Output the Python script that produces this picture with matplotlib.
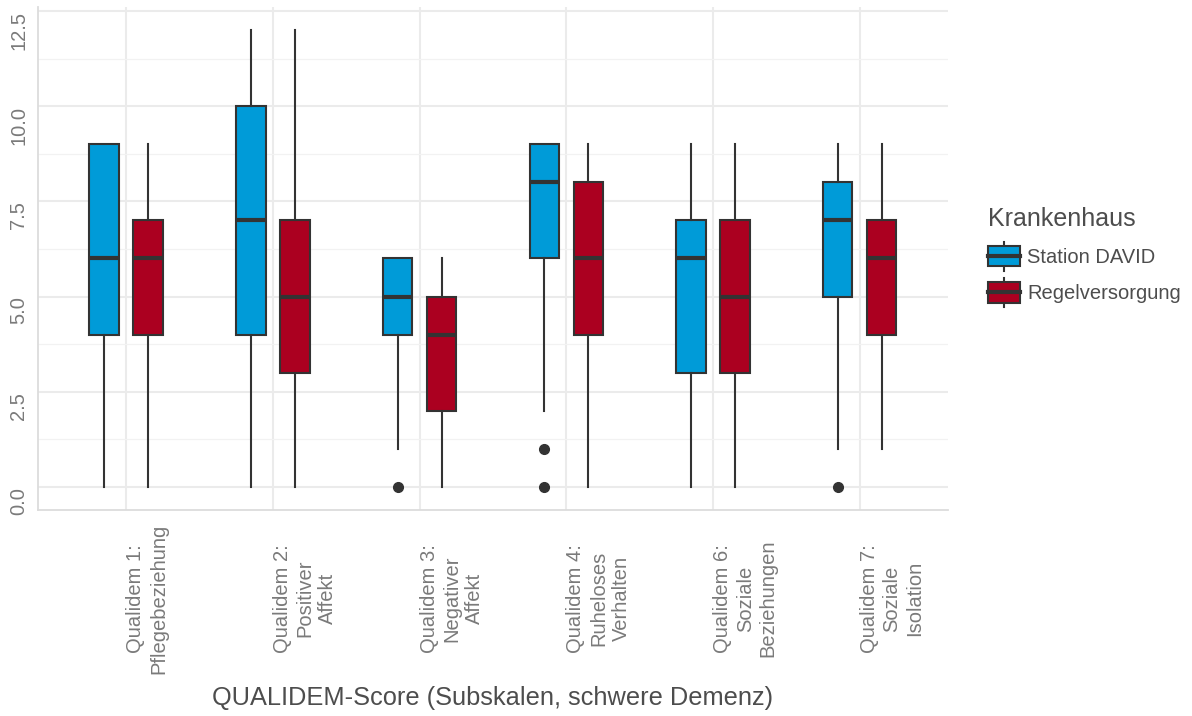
import matplotlib
matplotlib.use("Agg")
import matplotlib.pyplot as plt
from matplotlib.legend_handler import HandlerBase
from matplotlib.patches import Patch, Rectangle
from matplotlib.lines import Line2D
from matplotlib.ticker import MultipleLocator

plt.rcParams["font.family"] = ["Liberation Sans", "DejaVu Sans"]

categories = [
    "Qualidem 1:\nPflegebeziehung",
    "Qualidem 2:\nPositiver\nAffekt",
    "Qualidem 3:\nNegativer\nAffekt",
    "Qualidem 4:\nRuheloses\nVerhalten",
    "Qualidem 6:\nSoziale\nBeziehungen",
    "Qualidem 7:\nSoziale\nIsolation",
]
groups = ["Station DAVID", "Regelversorgung"]

# Station DAVID
david_med = [6, 7, 5, 8, 6, 7]
david_q1 = [4, 4, 4, 6, 3, 5]
david_q3 = [9, 10, 6, 9, 7, 8]
david_lo = [0, 0, 1, 2, 0, 1]
david_hi = [9, 12, 6, 9, 9, 9]
david_out = [[], [], [0], [1, 0], [], [0]]

# Regelversorgung
regel_med = [6, 5, 4, 6, 5, 6]
regel_q1 = [4, 3, 2, 4, 3, 4]
regel_q3 = [7, 7, 5, 8, 7, 7]
regel_lo = [0, 0, 0, 0, 0, 1]
regel_hi = [9, 12, 6, 9, 9, 9]
regel_out = [[], [], [], [], [], []]

colors = ["#009BD8", "#AB0020"]
edge = "#333333"


def make_stats(med, q1, q3, lo, hi, out):
    return [dict(med=m, q1=a, q3=b, whislo=l, whishi=h, fliers=f)
            for m, a, b, l, h, f in zip(med, q1, q3, lo, hi, out)]


class BoxKey(HandlerBase):
    def create_artists(self, legend, orig_handle, xdescent, ydescent,
                       width, height, fontsize, trans):
        x0, y0 = -xdescent, -ydescent
        cx = x0 + width / 2
        arts = [
            Line2D([cx, cx], [y0 - height * 0.2, y0 + height * 1.2],
                   color=edge, lw=1.5, transform=trans),
            Rectangle((x0, y0), width, height, facecolor=orig_handle.get_facecolor(),
                      edgecolor=edge, lw=1.5, transform=trans),
            Line2D([x0, x0 + width], [y0 + height / 2] * 2, color=edge, lw=3,
                   transform=trans),
        ]
        return arts


fig = plt.figure(figsize=(11.92, 7.16), dpi=100)
ax = fig.add_axes([0.032, 0.288, 0.763, 0.702])

x = list(range(1, len(categories) + 1))
offset = 0.15
common = dict(widths=0.2, patch_artist=True, showcaps=False,
              boxprops=dict(edgecolor=edge, linewidth=1.5),
              medianprops=dict(color=edge, linewidth=3),
              whiskerprops=dict(color=edge, linewidth=1.5),
              flierprops=dict(marker="o", markerfacecolor=edge,
                              markeredgecolor=edge, markersize=7))

b1 = ax.bxp(make_stats(david_med, david_q1, david_q3, david_lo, david_hi, david_out),
            positions=[p - offset for p in x], **common)
b2 = ax.bxp(make_stats(regel_med, regel_q1, regel_q3, regel_lo, regel_hi, regel_out),
            positions=[p + offset for p in x], **common)
for bp, c in zip([b1, b2], colors):
    for box in bp["boxes"]:
        box.set_facecolor(c)

ax.set_xlim(0.4, len(categories) + 0.6)
ax.set_ylim(-0.6, 12.6)
ax.yaxis.set_major_locator(MultipleLocator(2.5))
ax.yaxis.set_minor_locator(MultipleLocator(1.25))
ax.set_yticks([0, 2.5, 5, 7.5, 10, 12.5])
ax.set_yticklabels(["0.0", "2.5", "5.0", "7.5", "10.0", "12.5"])
ax.set_xticks(x)
ax.set_xticklabels(categories)

ax.grid(True, which="major", color="#EBEBEB", linewidth=1.5)
ax.grid(True, which="minor", axis="y", color="#F2F2F2", linewidth=0.9)
ax.set_axisbelow(True)

for s in ["top", "right"]:
    ax.spines[s].set_visible(False)
for s in ["left", "bottom"]:
    ax.spines[s].set_color("#DCDCDC")
    ax.spines[s].set_linewidth(1.3)

ax.tick_params(axis="both", which="both", length=0, labelsize=14.5,
               labelcolor="#7A7A7A")
ax.tick_params(axis="y", labelrotation=90, pad=7)
ax.tick_params(axis="x", labelrotation=90, pad=64)
for lab in ax.get_yticklabels():
    lab.set_va("top")
for lab in ax.get_xticklabels():
    lab.set_ha("left")
    lab.set_va("center")
    lab.set_multialignment("center")
    lab.set_linespacing(1.25)

ax.set_xlabel("QUALIDEM-Score (Subskalen, schwere Demenz)", fontsize=18.3,
              color="#4D4D4D", labelpad=9)

handles = [Patch(facecolor=c, edgecolor=edge) for c in colors]
leg = fig.legend(handles, groups, title="Krankenhaus", loc="center left",
                 bbox_to_anchor=(0.8205, 0.644), frameon=False, fontsize=14.5,
                 title_fontsize=18, handler_map={Patch: BoxKey()},
                 handlelength=1.6, handleheight=1.2, labelspacing=0.75,
                 handletextpad=0.35, borderpad=0)
leg._legend_box.align = "left"
leg.get_title().set_color("#4D4D4D")
for t in leg.get_texts():
    t.set_color("#4D4D4D")

fig.savefig("out.png", dpi=100)
